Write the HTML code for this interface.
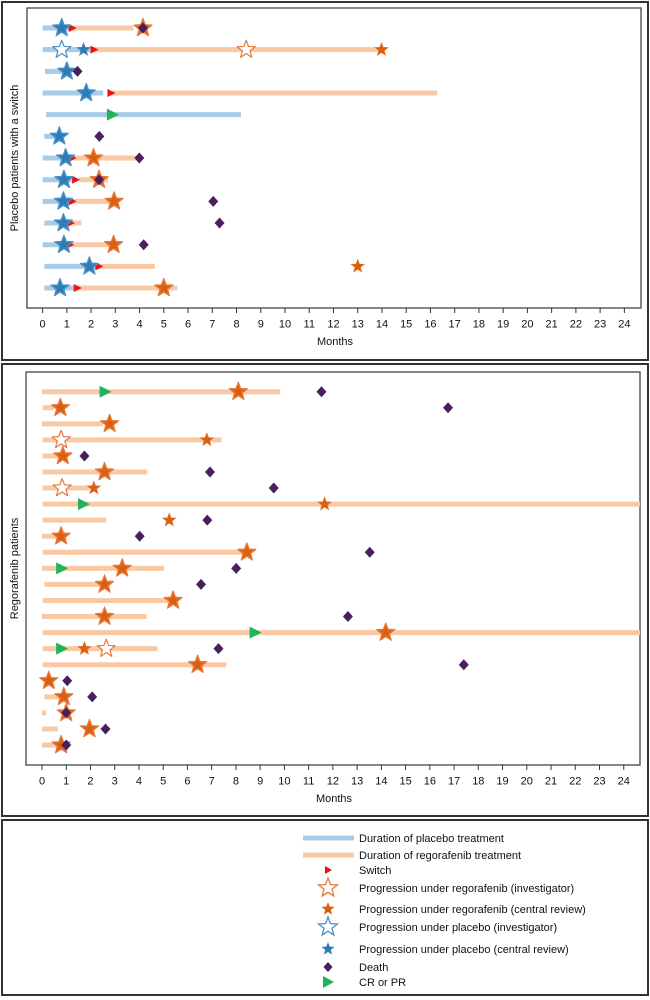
<!DOCTYPE html>
<html><head><meta charset="utf-8"><style>
html,body{margin:0;padding:0;background:#fff;}
svg{display:block;font-family:"Liberation Sans",sans-serif;}
</style></head><body>
<svg id="chart" width="650" height="1000" viewBox="0 0 650 1000">
<rect x="2" y="2" width="646" height="358" fill="none" stroke="#333" stroke-width="2"/>
<rect x="2" y="364" width="646" height="452" fill="none" stroke="#333" stroke-width="2"/>
<rect x="2" y="820" width="646" height="175" fill="none" stroke="#333" stroke-width="2"/>
<g id="top"></g>
<g id="bottom"></g>
<g id="legend"></g>
</svg>
<script>
// ---- Top panel data (placebo patients with a switch) ----
const topPlStart = [0,0,0.1,0,0.14,0.07,0,0,0,0.07,0,0.07,0.07];
const topPlEnd   = [1.2,1.96,1.0,2.5,8.18,0.7,1.2,1.2,1.1,1.0,1.1,2.24,1.3];
const topRgStart = [1.2,2.1,null,2.8,null,null,1.2,1.5,1.2,1.13,1.1,2.3,1.41];
const topRgEnd   = [3.75,14.0,null,16.28,null,null,3.96,2.7,2.93,1.6,2.93,4.63,5.55];
const topSwitch  = [1.2,2.1,null,2.8,null,null,1.2,1.34,1.2,1.13,1.1,2.3,1.41];
const topPlInv   = [0.79,0.79,1.0,1.8,null,0.69,0.95,0.88,0.86,0.86,0.88,1.93,0.72];
const topPlCen   = [0.79,1.69,1.0,1.8,null,0.69,0.95,0.88,0.86,0.86,0.88,1.93,0.72];
const topRgInv   = [4.14,8.4,null,null,null,null,2.1,2.33,2.95,null,2.93,null,5.0];
const topRgCen   = [4.14,13.98,null,null,null,null,2.1,2.33,2.95,null,2.93,13.0,5.0];
const topDeath   = [4.14,null,1.44,null,null,2.34,3.99,2.33,7.04,7.3,4.17,null,null];
const topResp    = [null,null,null,null,2.86,null,null,null,null,null,null,null,null];
// ---- Bottom panel data (regorafenib patients) ----
const botRgStart = [0,0.03,0,0.03,0.03,0.03,0.03,0.03,0.03,0,0.03,0,0.1,0.03,0,0.03,0.03,0.03,null,0.1,0,0,0];
const botRgEnd   = [9.83,0.5,2.5,7.4,0.86,4.34,1.96,24.7,2.65,0.7,8.38,5.04,2.58,5.41,4.31,24.7,4.77,7.6,null,0.9,0.17,0.65,0.8];
const botRgInv   = [8.1,0.76,null,0.79,0.86,2.58,0.83,null,null,0.79,8.45,3.31,2.58,5.41,2.58,14.18,2.65,6.42,0.28,0.9,1.0,1.96,0.79];
const botRgCen   = [8.1,0.76,2.79,6.8,0.86,2.58,2.14,11.66,5.25,0.79,8.45,3.31,2.58,5.41,2.58,14.18,1.75,6.42,0.28,0.9,1.0,1.96,0.79];
const botInvB    = [null,null,2.79,null,null,null,null,null,null,null,null,null,null,null,null,null,null,null,null,null,null,null,null];
const botDeath   = [11.53,16.75,null,null,1.75,6.93,9.56,null,6.82,4.03,13.52,8.01,6.56,null,12.62,null,7.28,17.4,1.04,2.07,1.0,2.62,1.0];
const botResp    = [2.58,null,null,null,null,null,null,1.69,null,null,null,0.79,null,null,null,8.77,0.79,null,null,null,null,null,null];
const tickLabels = ["0","1","2","3","4","5","6","7","8","9","10","11","12","13","14","15","16","17","18","19","20","21","22","23","24"];

const NS="http://www.w3.org/2000/svg";
const C={pl:"#a8cbe6",rg:"#f8c9a4",orange:"#d95f0e",blue:"#2b7bb6",death:"#4b1f5f",green:"#21b25c",red:"#ee1111",orangeO:"#e8783a",blueO:"#4a90c8"};
function mk(parent,tag,attrs){const e=document.createElementNS(NS,tag);for(const k in attrs)e.setAttribute(k,attrs[k]);parent.appendChild(e);return e;}
function starPts(cx,cy,R){const r=R*0.42;let p=[];for(let i=0;i<10;i++){const a=-Math.PI/2+i*Math.PI/5;const rr=i%2?r:R;p.push((cx+rr*Math.cos(a)).toFixed(2)+","+(cy+rr*Math.sin(a)).toFixed(2));}return p.join(" ");}

function panel(g,opt){
  const x=v=>opt.x0+v*opt.k;
  const f=mk(g,"rect",{x:opt.L,y:opt.T,width:opt.R-opt.L,height:opt.B-opt.T,fill:"none",stroke:"#444","stroke-width":1.3});
  
  
  tickLabels.forEach((t,i)=>{
    const tk=mk(g,"line",{x1:x(i),x2:x(i),y1:opt.B,y2:opt.B+5,stroke:"#333","stroke-width":1});
    
    
    const tl=mk(g,"text",{x:x(i),y:opt.B+19.5,"text-anchor":"middle","font-size":11,fill:"#111"});
    tl.textContent=t;
    
    
  });
  const xt=mk(g,"text",{x:opt.monthsX,y:opt.B+37,"text-anchor":"middle","font-size":11,fill:"#111"});
  xt.textContent="Months";
  
  
  const yt=mk(g,"text",{x:0,y:0,"text-anchor":"middle","font-size":11,fill:"#111",transform:`translate(18,${(opt.T+opt.B)/2}) rotate(-90)`});
  yt.textContent=opt.title;
  
  
  const n=opt.d.rgEnd.length;
  for(let i=0;i<n;i++){
    const y=opt.y0+i*opt.dy;
    if(opt.d.plEnd&&opt.d.plEnd[i]!=null){
      const b=mk(g,"line",{x1:x(opt.d.plStart[i]),x2:x(opt.d.plEnd[i]),y1:y,y2:y,stroke:C.pl,"stroke-width":5});
      
      
    }
    if(opt.d.rgEnd[i]!=null){
      const b=mk(g,"line",{x1:x(opt.d.rgStart[i]),x2:Math.min(x(opt.d.rgEnd[i]),opt.R),y1:y,y2:y,stroke:C.rg,"stroke-width":5});
      
      
    }
  }
  for(let i=0;i<n;i++){
    const y=opt.y0+i*opt.dy;
    if(opt.d.sw&&opt.d.sw[i]!=null){
      const cx=x(opt.d.sw[i]);
      const s=mk(g,"polygon",{points:`${cx-3},${y-4} ${cx+5},${y} ${cx-3},${y+4}`,fill:C.red});
      
      
    }
    if(opt.d.resp[i]!=null){
      const cx=x(opt.d.resp[i]);
      const s=mk(g,"polygon",{points:`${cx-5},${y-6} ${cx+7},${y} ${cx-5},${y+6}`,fill:C.green});
      
      
    }
    const stars=[[opt.d.plInv,opt.d.plCen,C.blue,C.blueO,'placebo'],[opt.d.rgInv,opt.d.rgCen,C.orange,C.orangeO,'regorafenib']];
    if(opt.d.invB) stars.push([opt.d.invB,opt.d.invB,C.orange,C.orangeO,'regorafenib']);
    stars.forEach(([inv,cen,col,ocol,nm])=>{
      if(!inv&&!cen)return;
      const a=inv?inv[i]:null,c=cen?cen[i]:null;
      if(a!=null&&c!=null&&Math.abs(a-c)<0.01){
        const o=mk(g,"polygon",{points:starPts(x(a),y,9.5),fill:col,stroke:ocol,"stroke-width":1.2,"stroke-linejoin":"round"});
        
        
        const o2=mk(g,"polygon",{points:starPts(x(a),y,7),fill:"none",stroke:ocol,"stroke-width":0.6,"stroke-opacity":0.6});
        
        
      } else {
        if(a!=null){
          const o=mk(g,"polygon",{points:starPts(x(a),y,9.5),fill:"#fff",stroke:ocol,"stroke-width":1.2,"stroke-linejoin":"round"});
          
          
        }
        if(c!=null){
          const o=mk(g,"polygon",{points:starPts(x(c),y,7),fill:col,stroke:ocol,"stroke-width":0.6});
          
          
        }
      }
    });
    if(opt.d.death[i]!=null){
      const cx=x(opt.d.death[i]);
      const s=mk(g,"polygon",{points:`${cx},${y-5.5} ${cx+5},${y} ${cx},${y+5.5} ${cx-5},${y}`,fill:C.death});
      
      
    }
  }
}
panel(document.getElementById('top'),{L:27,T:8,R:641,B:308,x0:42.6,k:24.24,y0:28,dy:21.67,monthsX:335,title:"Placebo patients with a switch",
  d:{plStart:topPlStart,plEnd:topPlEnd,rgStart:topRgStart,rgEnd:topRgEnd,sw:topSwitch,plInv:topPlInv,plCen:topPlCen,rgInv:topRgInv,rgCen:topRgCen,death:topDeath,resp:topResp}});
panel(document.getElementById('bottom'),{L:26,T:372,R:640,B:765,x0:42,k:24.24,y0:391.7,dy:16.06,monthsX:334,title:"Regorafenib patients",
  d:{rgStart:botRgStart,rgEnd:botRgEnd,rgInv:botRgInv,rgCen:botRgCen,invB:botInvB,death:botDeath,resp:botResp}});

// ---- Legend ----
const lg=document.getElementById('legend');
const legendLabels=["Duration of placebo treatment","Duration of regorafenib treatment","Switch","Progression under regorafenib (investigator)","Progression under regorafenib (central review)","Progression under placebo (investigator)","Progression under placebo (central review)","Death","CR or PR"];
const legendY=[838,855,870,888,909,927,949,967,982];
legendLabels.forEach((t,i)=>{
  const y=legendY[i],cx=328;let m;
  if(i===0)m=mk(lg,"line",{x1:303,x2:354,y1:y,y2:y,stroke:C.pl,"stroke-width":5});
  else if(i===1)m=mk(lg,"line",{x1:303,x2:354,y1:y,y2:y,stroke:C.rg,"stroke-width":5});
  else if(i===2)m=mk(lg,"polygon",{points:`${cx-3},${y-4} ${cx+4},${y} ${cx-3},${y+4}`,fill:C.red});
  else if(i===3)m=mk(lg,"polygon",{points:starPts(cx,y,10),fill:"#fff",stroke:C.orangeO,"stroke-width":1.3});
  else if(i===4)m=mk(lg,"polygon",{points:starPts(cx,y,7),fill:C.orange});
  else if(i===5)m=mk(lg,"polygon",{points:starPts(cx,y,10),fill:"#fff",stroke:C.blueO,"stroke-width":1.3});
  else if(i===6)m=mk(lg,"polygon",{points:starPts(cx,y,7),fill:C.blue});
  else if(i===7)m=mk(lg,"polygon",{points:`${cx},${y-5} ${cx+4.5},${y} ${cx},${y+5} ${cx-4.5},${y}`,fill:C.death});
  else m=mk(lg,"polygon",{points:`${cx-5},${y-6} ${cx+6},${y} ${cx-5},${y+6}`,fill:C.green});
  
  
  const tx=mk(lg,"text",{x:359,y:y+4,"font-size":11,fill:"#111"});
  tx.textContent=t;
  
  
});
</script>
</body></html>
